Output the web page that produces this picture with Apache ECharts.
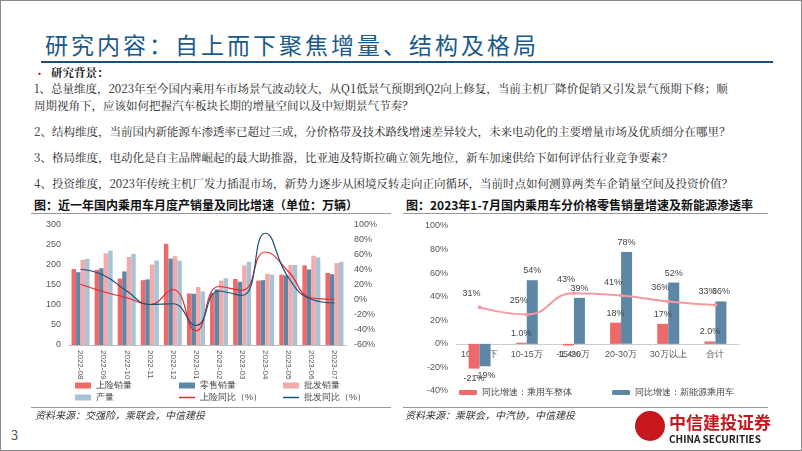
<!DOCTYPE html>
<html><head><meta charset="utf-8">
<script src="https://cdn.jsdelivr.net/npm/echarts@6/dist/echarts.min.js"></script>
<style>
body{margin:0;width:802px;height:451px;overflow:hidden;background:#fff;font-family:"Noto Sans CJK SC","Noto Sans",sans-serif;}
#slide{position:absolute;left:0;top:0;width:800px;height:449px;border:1px solid #888;}
.t{position:absolute;white-space:nowrap;}
#title{left:44px;top:26px;font-size:23px;color:#1a5a8a;letter-spacing:3px;font-family:"Noto Sans CJK SC";}
#tline{position:absolute;left:40px;top:60px;width:732px;height:2px;background:#1a4f7a;}
.p{font-size:11.5px;color:#222;left:33px;font-family:"Noto Serif CJK SC","Noto Sans CJK SC";}
.ct{font-size:12px;font-weight:bold;color:#111;}
.src{font-size:10px;color:#333;font-style:italic;}
.hl{position:absolute;height:1px;background:#999;}
</style></head><body>
<div id="slide">
<div class="t" id="title">研究内容：自上而下聚焦增量、结构及格局</div>
<div id="tline"></div>
<div class="t" style="left:33px;top:64px;font-size:11px;color:#c00;">•</div>
<div class="t p" style="left:50px;top:63px;font-weight:bold;">研究背景：</div>
<div class="t p" style="top:79px;">1、总量维度，2023年至今国内乘用车市场景气波动较大，从Q1低景气预期到Q2向上修复，当前主机厂降价促销又引发景气预期下修；顺</div>
<div class="t p" style="top:96px;">周期视角下，应该如何把握汽车板块长期的增量空间以及中短期景气节奏？</div>
<div class="t p" style="top:122px;">2、结构维度，当前国内新能源车渗透率已超过三成，分价格带及技术路线增速差异较大，未来电动化的主要增量市场及优质细分在哪里？</div>
<div class="t p" style="top:148px;">3、格局维度，电动化是自主品牌崛起的最大助推器，比亚迪及特斯拉确立领先地位，新车加速供给下如何评估行业竞争要素？</div>
<div class="t p" style="top:174px;">4、投资维度，2023年传统主机厂发力插混市场，新势力逐步从困境反转走向正向循环，当前时点如何测算两类车企销量空间及投资价值？</div>
<div class="t ct" style="left:33px;top:195px;">图：近一年国内乘用车月度产销量及同比增速（单位：万辆）</div>
<div class="t ct" style="left:405px;top:195px;">图：2023年1-7月国内乘用车分价格零售销量增速及新能源渗透率</div>
<div class="hl" style="left:30px;top:212px;width:360px;"></div>
<div class="hl" style="left:402px;top:212px;width:365px;"></div>
<div id="c1" style="position:absolute;left:20px;top:213px;width:375px;height:194px;"></div>
<div id="c2" style="position:absolute;left:400px;top:213px;width:372px;height:190px;"></div>
<div class="hl" style="left:30px;top:406px;width:360px;"></div>
<div class="hl" style="left:402px;top:406px;width:365px;"></div>
<div class="t src" style="left:34px;top:406px;">资料来源：交强险，乘联会，中信建投</div>
<div class="t src" style="left:404px;top:406px;">资料来源：乘联会，中汽协，中信建投</div>
<div class="t" style="left:10px;top:424px;font-size:13px;color:#555;">3</div>
<div style="position:absolute;left:634px;top:410px;width:30px;height:30px;border-radius:50%;background:#c8161d;"></div>
<div class="t" style="left:668px;top:408px;font-size:17px;font-weight:bold;color:#c8161d;">中信建投证券</div>
<div class="t" style="left:668px;top:430px;font-size:10px;font-weight:bold;color:#222;">CHINA SECURITIES</div>
</div>
<script>
const months=["2022-08","2022-09","2022-10","2022-11","2022-12","2023-01","2023-02","2023-03","2023-04","2023-05","2023-06","2023-07"];
const insured=[190,188,166,162,253,129,130,165,161,176,199,180];
const retail=[182,192,184,164,216,128,139,158,162,174,189,177];
const wholesale=[213,229,220,201,222,145,161,199,178,200,223,205];
const production=[215,236,228,211,211,134,167,208,176,200,219,208];
const insuredYoY=[21,11,3,-6,14,-41,18,13,64,38,3,1];
const wholesaleYoY=[41,33,12,-6,-5,-34,12,6,89,30,1,-4];

const priceBands=["10万以下","10-15万","15-20万","20-30万","30万以上","合计"];
const totalYoY=[-21,1.0,-1.4,18,17,2.0];
const nevYoY=[-19,54,39,78,52,36];
const penetration=[31,25,43,41,36,33];

const leg1=['上险销量','零售销量','批发销量','产量','上险同比（%）','批发同比（%）'];
const c1=echarts.init(document.getElementById('c1'));
c1.setOption({
 animation:false,
 grid:{left:48,right:50,top:11,bottom:63},
 legend:leg1.map((n,i)=>({data:[n],left:52+(i%3)*104,top:i<3?165:177,padding:2,itemWidth:16,itemHeight:i>=4?1.5:6,icon:'rect',textStyle:{fontSize:9,color:'#444'}})),
 xAxis:{type:'category',data:months,axisLabel:{rotate:-90,fontSize:8,color:'#555',margin:5},axisLine:{lineStyle:{color:'#bbb'}},axisTick:{show:false}},
 yAxis:[{type:'value',min:0,max:300,interval:50,axisLabel:{fontSize:9,color:'#555'},splitLine:{show:false},axisLine:{show:false},axisTick:{show:false}},
        {type:'value',min:-60,max:100,interval:20,axisLabel:{fontSize:9,color:'#555',formatter:'{value}%'},splitLine:{show:false},axisLine:{show:false},axisTick:{show:false}}],
 series:[
  {name:'上险销量',type:'bar',data:insured,barWidth:4.5,barGap:'0%',itemStyle:{color:'#ee6a6a'}},
  {name:'零售销量',type:'bar',data:retail,barWidth:4.5,itemStyle:{color:'#5d87a6'}},
  {name:'批发销量',type:'bar',data:wholesale,barWidth:4.5,itemStyle:{color:'#f4aaaa'}},
  {name:'产量',type:'bar',data:production,barWidth:4.5,itemStyle:{color:'#a9c3d6'}},
  {name:'上险同比（%）',type:'line',yAxisIndex:1,smooth:true,symbol:'none',data:insuredYoY,lineStyle:{color:'#e8262b',width:1.2},itemStyle:{color:'#e8262b'}},
  {name:'批发同比（%）',type:'line',yAxisIndex:1,smooth:true,symbol:'none',data:wholesaleYoY,lineStyle:{color:'#1f4e79',width:1.2},itemStyle:{color:'#1f4e79'}}
 ]
});
const c2=echarts.init(document.getElementById('c2'));
const pct=v=>(Math.abs(v)<3?v.toFixed(1):Math.round(v))+'%';
const barData=arr=>arr.map(v=>({value:v,label:{position:v<0?'bottom':'top'}}));
c2.setOption({
 animation:false,
 grid:{left:55,right:34,top:12,bottom:13},
 legend:{top:169,left:52,itemWidth:18,itemHeight:5,itemGap:40,textStyle:{fontSize:9,color:'#444'}},
 xAxis:{type:'category',data:priceBands,offset:-47,axisLabel:{fontSize:9,color:'#555',margin:6,interval:0},axisLine:{onZero:false,lineStyle:{color:'#ccc'}},axisTick:{show:false}},
 yAxis:{type:'value',min:-40,max:100,interval:20,axisLabel:{fontSize:9,color:'#555',formatter:'{value}%'},splitLine:{show:false},axisLine:{show:false},axisTick:{show:false}},
 series:[
  {name:'同比增速：乘用车整体',type:'bar',data:barData(totalYoY),barWidth:11,barGap:'0%',itemStyle:{color:'#ee6a6a'},label:{show:true,fontSize:9,color:'#444',formatter:p=>pct(p.value)}},
  {name:'同比增速：新能源乘用车',type:'bar',data:barData(nevYoY),barWidth:11,itemStyle:{color:'#5d87a6'},label:{show:true,fontSize:9,color:'#444',formatter:p=>Math.round(p.value)+'%'}},
  {name:'渗透率',type:'line',smooth:true,data:penetration,symbol:'circle',symbolSize:4,lineStyle:{color:'#f49aa0',width:2},itemStyle:{color:'#f49aa0'},label:{show:true,position:'top',distance:7,offset:[-8,0],fontSize:9,color:'#444',formatter:p=>p.value+'%'}}
 ]
});
</script></body></html>
